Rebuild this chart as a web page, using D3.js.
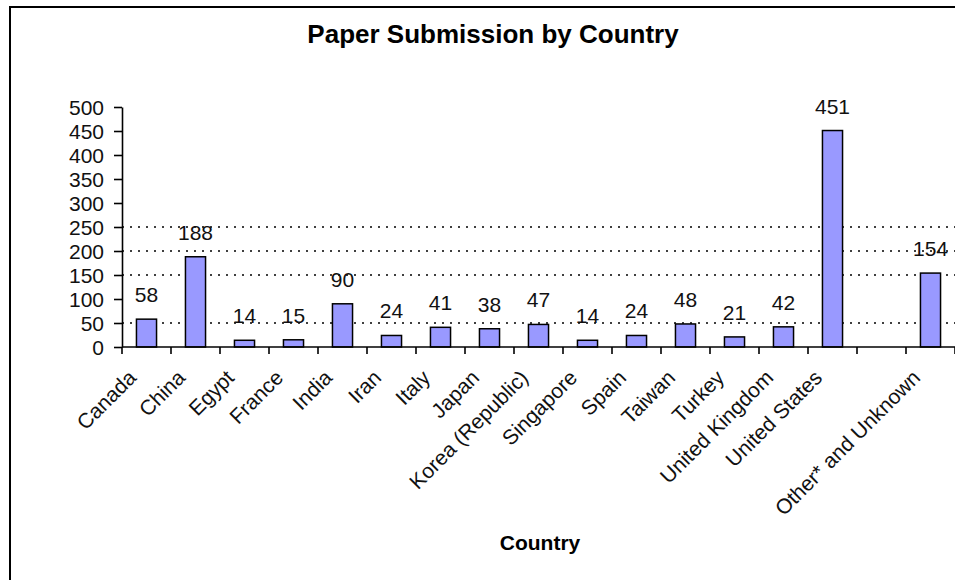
<!DOCTYPE html>
<meta charset="utf-8">
<head>
    <meta charset="utf-8">
    <title>Paper Submission by Country</title>
    <!-- Load d3.js -->
    <script src="https://d3js.org/d3.v7.min.js"></script>
    <style>
        body {
            margin: 0;
            background: #fff;
            font-family: 'Liberation Sans', Arial, sans-serif;
        }
    </style>
</head>
<body>
<div id="my_dataviz"></div>
<script>
    // Data (the blank slot is an empty category)
    var categories = ["Canada", "China", "Egypt", "France", "India", "Iran", "Italy", "Japan",
        "Korea (Republic)", "Singapore", "Spain", "Taiwan", "Turkey", "United Kingdom",
        "United States", "", "Other* and Unknown"];
    var submissions = [58, 188, 14, 15, 90, 24, 41, 38, 47, 14, 24, 48, 21, 42, 451, null, 154];
    var yTicks = [0, 50, 100, 150, 200, 250, 300, 350, 400, 450, 500];
    var gridValues = [50, 150, 200, 250];

    var W = 955, H = 580;
    var margin = {top: 107, right: 0, bottom: 233, left: 122},
        width = W - margin.left - margin.right,
        height = H - margin.top - margin.bottom;

    var svg = d3.select("#my_dataviz")
        .append("svg")
        .attr("width", W)
        .attr("height", H);

    // Frame of the chart area
    svg.append("rect")
        .attr("x", 10).attr("y", 7)
        .attr("width", W + 10).attr("height", H + 10)
        .attr("fill", "none")
        .attr("stroke", "#000")
        .attr("stroke-width", 2);

    // Title
    svg.append("text")
        .attr("x", 493)
        .attr("y", 43)
        .attr("text-anchor", "middle")
        .style("font-size", "26px")
        .style("font-weight", "bold")
        .text("Paper Submission by Country");

    var g = svg.append("g")
        .attr("transform", "translate(" + margin.left + "," + margin.top + ")");

    var x = d3.scaleBand()
        .domain(categories)
        .range([0, width])
        .paddingInner(0.59)
        .paddingOuter(0.295);

    var y = d3.scaleLinear()
        .domain([0, 500])
        .range([height, 0]);

    // Dotted gridlines
    g.selectAll(".grid")
        .data(gridValues)
        .enter().append("line")
        .attr("class", "grid")
        .attr("x1", 0).attr("x2", width)
        .attr("y1", function(d) { return y(d); })
        .attr("y2", function(d) { return y(d); })
        .attr("stroke", "#000")
        .attr("stroke-width", 1.6)
        .attr("stroke-dasharray", "2,6");

    // Bars
    var barData = categories.map(function(c, i) { return {cat: c, v: submissions[i]}; })
        .filter(function(d) { return d.v != null; });

    g.selectAll(".bar")
        .data(barData)
        .enter().append("rect")
        .attr("class", "bar")
        .attr("x", function(d) { return x(d.cat); })
        .attr("y", function(d) { return y(d.v); })
        .attr("width", x.bandwidth())
        .attr("height", function(d) { return height - y(d.v); })
        .attr("fill", "#9999ff")
        .attr("stroke", "#000")
        .attr("stroke-width", 1.5);

    // Value labels
    g.selectAll(".val")
        .data(barData)
        .enter().append("text")
        .attr("class", "val")
        .attr("x", function(d) { return x(d.cat) + x.bandwidth() / 2; })
        .attr("y", function(d) { return y(d.v) - 17; })
        .attr("text-anchor", "middle")
        .style("font-size", "21px")
        .style("fill", "#111")
        .text(function(d) { return d.v; });

    // Y axis
    var yAxis = g.append("g")
        .call(d3.axisLeft(y).tickValues(yTicks).tickSize(8).tickSizeOuter(0).tickPadding(10));
    yAxis.select(".domain").attr("stroke", "#000").attr("stroke-width", 1.6);
    yAxis.selectAll(".tick line").attr("stroke", "#000").attr("stroke-width", 1.6);
    yAxis.selectAll("text")
        .style("font-size", "21px")
        .style("font-family", "'Liberation Sans', Arial, sans-serif")
        .style("fill", "#111")
        .attr("dy", "0.36em");

    // X axis: line plus ticks at the category boundaries
    var step = x.step();
    var bounds = categories.map(function(c) { return x(c) - x.paddingInner() * step / 2; });
    bounds.push(width);
    g.append("line")
        .attr("x1", 0).attr("x2", width)
        .attr("y1", height).attr("y2", height)
        .attr("stroke", "#000").attr("stroke-width", 1.6);
    g.selectAll(".xtick")
        .data(bounds)
        .enter().append("line")
        .attr("class", "xtick")
        .attr("x1", function(d) { return d; }).attr("x2", function(d) { return d; })
        .attr("y1", height).attr("y2", height + 7)
        .attr("stroke", "#000").attr("stroke-width", 1.6);

    // Rotated category labels
    g.selectAll(".xlab")
        .data(categories)
        .enter().append("text")
        .attr("class", "xlab")
        .attr("text-anchor", "end")
        .attr("transform", function(d) {
            var cx = x(d) + x.bandwidth() / 2 - 9;
            return "translate(" + cx + "," + (height + 32) + ") rotate(-45)";
        })
        .style("font-size", "21px")
        .style("fill", "#111")
        .text(function(d) { return d; });

    // Axis title
    svg.append("text")
        .attr("x", 540)
        .attr("y", 550)
        .attr("text-anchor", "middle")
        .style("font-size", "21px")
        .style("font-weight", "bold")
        .text("Country");
</script>
</body>
